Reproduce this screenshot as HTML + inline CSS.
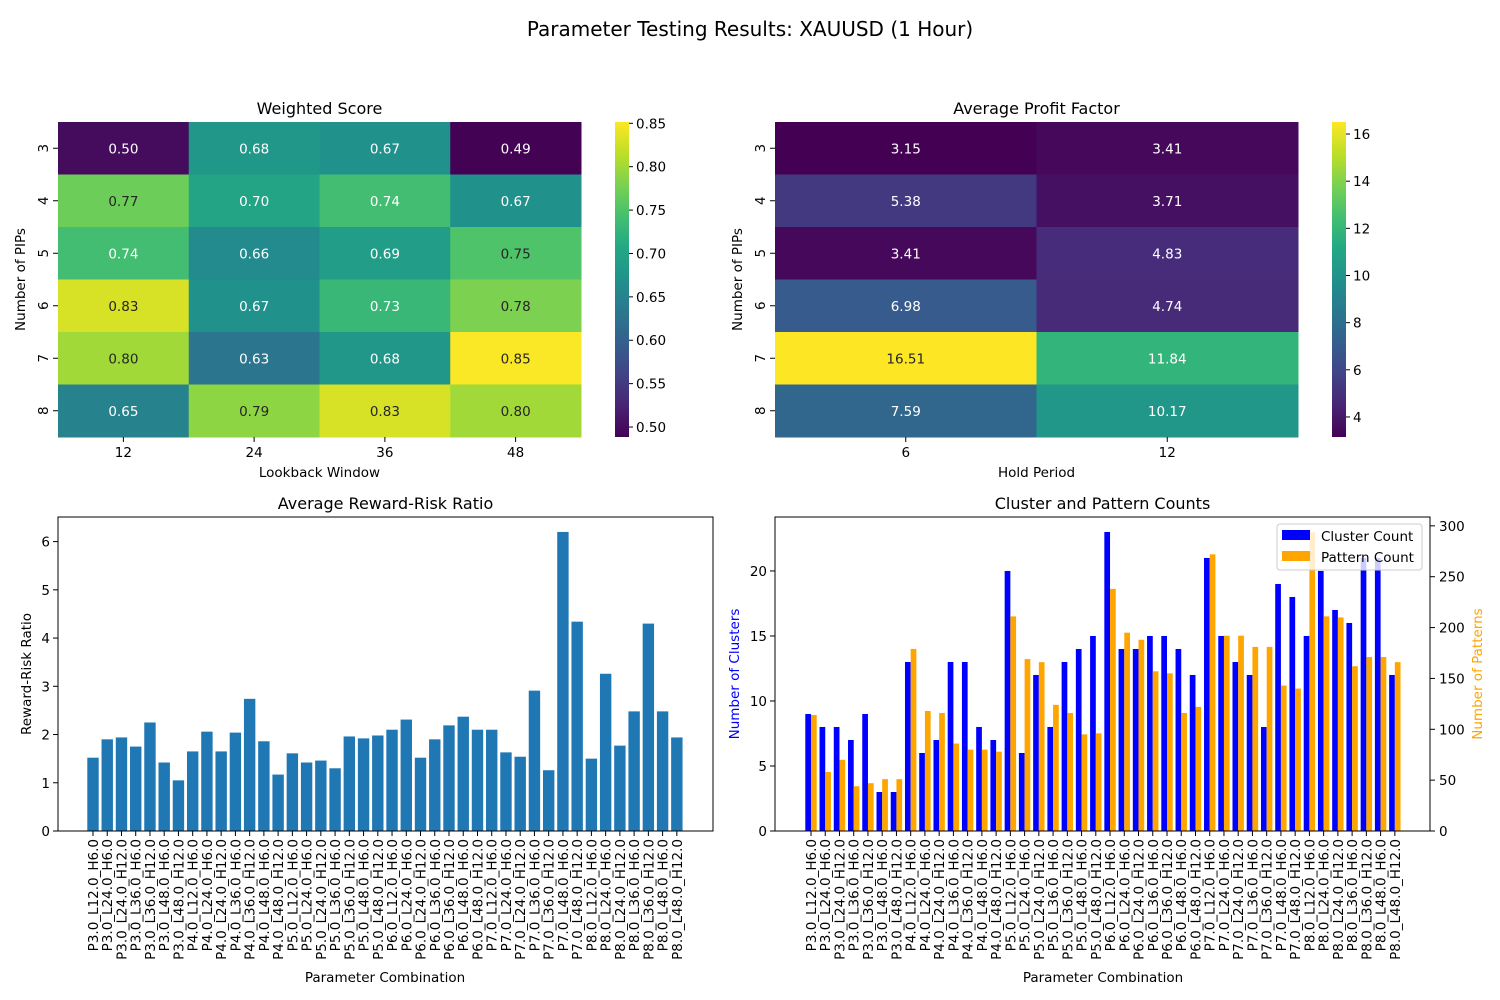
<!DOCTYPE html>
<html><head><meta charset="utf-8"><style>
html,body{margin:0;padding:0;background:#fff}
svg{display:block;font-family:"DejaVu Sans","Liberation Sans",sans-serif}
</style></head><body>
<svg id="fig" width="1500" height="1000" viewBox="0 0 1500 1000" xmlns="http://www.w3.org/2000/svg">
<rect width="1500" height="1000" fill="#fff"/>
<text x="750" y="36" font-size="20" text-anchor="middle" fill="#000">Parameter Testing Results: XAUUSD (1 Hour)</text>
<defs>
<linearGradient id="vir" x1="0" y1="1" x2="0" y2="0">
<stop offset="0" stop-color="#440154"/><stop offset="0.1" stop-color="#482475"/><stop offset="0.2" stop-color="#414487"/><stop offset="0.3" stop-color="#355f8d"/><stop offset="0.4" stop-color="#2a788e"/><stop offset="0.5" stop-color="#21918c"/><stop offset="0.6" stop-color="#22a884"/><stop offset="0.7" stop-color="#44bf70"/><stop offset="0.8" stop-color="#7ad151"/><stop offset="0.9" stop-color="#bddf26"/><stop offset="1" stop-color="#fde725"/>
</linearGradient>
</defs>
<g id="root"></g>
</svg>
<script>
// ---- data ----
const pipsRows = ["3","4","5","6","7","8"];
const lookbackCols = ["12","24","36","48"];
const weightedScore = [
 [0.50,0.68,0.67,0.49],
 [0.77,0.70,0.74,0.67],
 [0.74,0.66,0.69,0.75],
 [0.83,0.67,0.73,0.78],
 [0.80,0.63,0.68,0.85],
 [0.65,0.79,0.83,0.80]];
const wsTicks = [0.50,0.55,0.60,0.65,0.70,0.75,0.80,0.85];
const holdCols = ["6","12"];
const profitFactor = [
 [3.15,3.41],[5.38,3.71],[3.41,4.83],[6.98,4.74],[16.51,11.84],[7.59,10.17]];
const pfTicks = [4,6,8,10,12,14,16];
const combos = [];
["3","4","5","6","7","8"].forEach(p=>{
  [["12","6"],["24","6"],["24","12"],["36","6"],["36","12"],["48","6"],["48","12"]].forEach(c=>{
    combos.push("P"+p+".0_L"+c[0]+".0_H"+c[1]+".0");});});
const rewardRisk = [1.52,1.90,1.94,1.75,2.25,1.42,1.05, 1.65,2.06,1.65,2.04,2.74,1.86,1.17,
 1.61,1.42,1.46,1.30,1.96,1.92,1.98, 2.10,2.31,1.52,1.90,2.19,2.37,2.10,
 2.10,1.63,1.54,2.91,1.26,6.20,4.34, 1.50,3.26,1.77,2.48,4.30,2.48,1.94];
const rrTicks = [0,1,2,3,4,5,6];
const clusterCount = [9,8,8,7,9,3,3, 13,6,7,13,13,8,7, 20,6,12,8,13,14,15, 23,14,14,15,15,14,12,
 21,15,13,12,8,19,18, 15,20,17,16,21,21,12];
const patternCount = [114,58,70,44,47,51,51, 179,118,116,86,80,80,78, 211,169,166,124,116,95,96,
 238,195,188,157,155,116,122, 272,192,192,181,181,143,140, 294,211,210,162,171,171,166];
const clTicks = [0,5,10,15,20];
const ptTicks = [0,50,100,150,200,250,300];

// ---- helpers ----
const NS="http://www.w3.org/2000/svg";
const root=document.getElementById('root');
function el(tag,attrs,parent,txt){const e=document.createElementNS(NS,tag);for(const k in attrs)e.setAttribute(k,attrs[k]);if(txt!==undefined)e.textContent=txt;(parent||root).appendChild(e);return e;}
const stops=["#440154","#482475","#414487","#355f8d","#2a788e","#21918c","#22a884","#44bf70","#7ad151","#bddf26","#fde725"];
function hx(h){return [1,3,5].map(i=>parseInt(h.substr(i,2),16));}
function viridis(t){t=Math.max(0,Math.min(1,t));const f=t*10,i=Math.min(9,Math.floor(f)),r=f-i;const a=hx(stops[i]),b=hx(stops[i+1]);return "rgb("+a.map((v,k)=>Math.round(v+(b[k]-v)*r)).join(",")+")";}

function heatmap(name,x0,y0,w,h,rows,cols,data,ticks,xlabel,title,cbx,fmt,pad,isWs){
  const flat=data.flat(),vmin=Math.min(...flat)-pad,vmax=Math.max(...flat)+pad;
  const g=el('g',{});
  
  
  const t=el('text',{x:x0+w/2,y:y0-8,'font-size':16,'text-anchor':'middle'},g,title);
  
  
  const cw=w/cols.length,ch=h/rows.length;
  data.forEach((row,i)=>row.forEach((v,j)=>{
    const n=(v-vmin)/(vmax-vmin);
    const r=el('rect',{x:x0+j*cw,y:y0+i*ch,width:cw+0.5,height:ch+0.5,fill:viridis(n)},g);
    
    
    const tx=el('text',{x:x0+j*cw+cw/2,y:y0+i*ch+ch/2+5,'font-size':13.5,'text-anchor':'middle',fill:n>0.705?'#262626':'#fff'},g,fmt(v));
    
    
  }));
  rows.forEach((r,i)=>{const y=y0+i*ch+ch/2;
    el('line',{x1:x0-5,x2:x0,y1:y,y2:y,stroke:'#000','stroke-width':1},g);
    const tx=el('text',{x:0,y:0,'font-size':13.5,'text-anchor':'middle',transform:`translate(${x0-10},${y}) rotate(-90)`},g,r);
    
    });
  cols.forEach((c,j)=>{const x=x0+j*cw+cw/2;
    el('line',{x1:x,x2:x,y1:y0+h,y2:y0+h+5,stroke:'#000','stroke-width':1},g);
    const tx=el('text',{x:x,y:y0+h+20,'font-size':13.5,'text-anchor':'middle'},g,c);
    
    });
  const xl=el('text',{x:x0+w/2,y:y0+h+40,'font-size':13.5,'text-anchor':'middle'},g,xlabel);
  
  
  const yl=el('text',{x:0,y:0,'font-size':13.5,'text-anchor':'middle',transform:`translate(${x0-33},${y0+h/2}) rotate(-90)`},g,"Number of PIPs");
  
  
  const cb=el('rect',{x:cbx,y:y0,width:14,height:h,fill:'url(#vir)'},g);
  
  
  ticks.forEach(tv=>{const y=y0+h-(tv-vmin)/(vmax-vmin)*h;
    el('line',{x1:cbx+14,x2:cbx+18,y1:y,y2:y,stroke:'#000'},g);
    const tx=el('text',{x:cbx+21,y:y+5,'font-size':13.5},g,isWs?tv.toFixed(2):String(tv));
    
    });
}
const f2=v=>v.toFixed(2);
heatmap('weighted-score-heatmap',58,122,523,315,pipsRows,lookbackCols,weightedScore,wsTicks,'Lookback Window','Weighted Score',615,f2,0.0015,true);
heatmap('profit-factor-heatmap',775,122,523,315,pipsRows,holdCols,profitFactor,pfTicks,'Hold Period','Average Profit Factor',1332,f2,0,false);

// bottom axes
const AX={y0:517,y1:831};
const step=14.24;
function xlabels(g,x0){
  combos.forEach((c,i)=>{const x=x0+35+i*step;
    el('line',{x1:x,x2:x,y1:AX.y1,y2:AX.y1+5,stroke:'#000'},g);
    const t=el('text',{x:0,y:0,'font-size':13.5,'text-anchor':'end',transform:`translate(${x+5},${AX.y1+8}) rotate(-90)`},g,c);
    
    });
  const xl=el('text',{x:x0+327,y:982,'font-size':13.5,'text-anchor':'middle'},g,'Parameter Combination');
  
  
}
// reward-risk
(function(){
  const x0=58,w=655,ymax=6.51;
  const ys=v=>AX.y1-v/ymax*(AX.y1-AX.y0);
  const g=el('g',{});
  
  
  const t=el('text',{x:x0+w/2,y:AX.y0-8,'font-size':16,'text-anchor':'middle'},g,'Average Reward-Risk Ratio');
  
  
  rewardRisk.forEach((v,i)=>{const cx=x0+35+i*step;
    const b=el('rect',{x:cx-5.7,y:ys(v),width:11.4,height:AX.y1-ys(v),fill:'#1f77b4'},g);
    
    });
  rrTicks.forEach(tv=>{const y=ys(tv);
    el('line',{x1:x0-5,x2:x0,y1:y,y2:y,stroke:'#000'},g);
    const tx=el('text',{x:x0-8,y:y+5,'font-size':13.5,'text-anchor':'end'},g,String(tv));
    
    });
  el('rect',{x:x0,y:AX.y0,width:w,height:AX.y1-AX.y0,fill:'none',stroke:'#000','stroke-width':1},g);
  const yl=el('text',{x:0,y:0,'font-size':13.5,'text-anchor':'middle',transform:`translate(31,674) rotate(-90)`},g,'Reward-Risk Ratio');
  
  
  xlabels(g,x0);
})();
// cluster/pattern
(function(){
  const x0=775,w=655,cmax=24.15,pmax=308.7;
  const yc=v=>AX.y1-v/cmax*(AX.y1-AX.y0);
  const yp=v=>AX.y1-v/pmax*(AX.y1-AX.y0);
  const g=el('g',{});
  
  
  const t=el('text',{x:x0+w/2,y:AX.y0-8,'font-size':16,'text-anchor':'middle'},g,'Cluster and Pattern Counts');
  
  
  clusterCount.forEach((v,i)=>{const cx=x0+36+i*step;
    const b=el('rect',{x:cx-5.7,y:yc(v),width:5.7,height:AX.y1-yc(v),fill:'#0000ff'},g);
    
    });
  patternCount.forEach((v,i)=>{const cx=x0+36+i*step;
    const b=el('rect',{x:cx,y:yp(v),width:5.7,height:AX.y1-yp(v),fill:'#ffa500'},g);
    
    });
  clTicks.forEach(tv=>{const y=yc(tv);
    el('line',{x1:x0-5,x2:x0,y1:y,y2:y,stroke:'#000'},g);
    const tx=el('text',{x:x0-8,y:y+5,'font-size':13.5,'text-anchor':'end'},g,String(tv));
    
    });
  ptTicks.forEach(tv=>{const y=yp(tv);
    el('line',{x1:x0+w,x2:x0+w+5,y1:y,y2:y,stroke:'#000'},g);
    const tx=el('text',{x:x0+w+9,y:y+5,'font-size':13.5},g,String(tv));
    
    });
  const lg=el('g',{},g);
  
  
  el('rect',{x:1277,y:524,width:145,height:46,rx:3,fill:'#fff','fill-opacity':0.8,stroke:'#ccc'},lg);
  el('rect',{x:1282,y:530,width:28,height:10,fill:'#0000ff'},lg);
  el('rect',{x:1282,y:551,width:28,height:10,fill:'#ffa500'},lg);
  const l1=el('text',{x:1321,y:541,'font-size':13.5},lg,'Cluster Count');
  
  
  const l2=el('text',{x:1321,y:562,'font-size':13.5},lg,'Pattern Count');
  
  
  el('rect',{x:x0,y:AX.y0,width:w,height:AX.y1-AX.y0,fill:'none',stroke:'#000','stroke-width':1},g);
  const yl=el('text',{x:0,y:0,'font-size':13.5,'text-anchor':'middle',fill:'#0000ff',transform:`translate(739,674) rotate(-90)`},g,'Number of Clusters');
  
  
  const yr=el('text',{x:0,y:0,'font-size':13.5,'text-anchor':'middle',fill:'#ffa500',transform:`translate(1482,674) rotate(-90)`},g,'Number of Patterns');
  
  
  xlabels(g,x0+1);
})();
</script>
</body></html>
